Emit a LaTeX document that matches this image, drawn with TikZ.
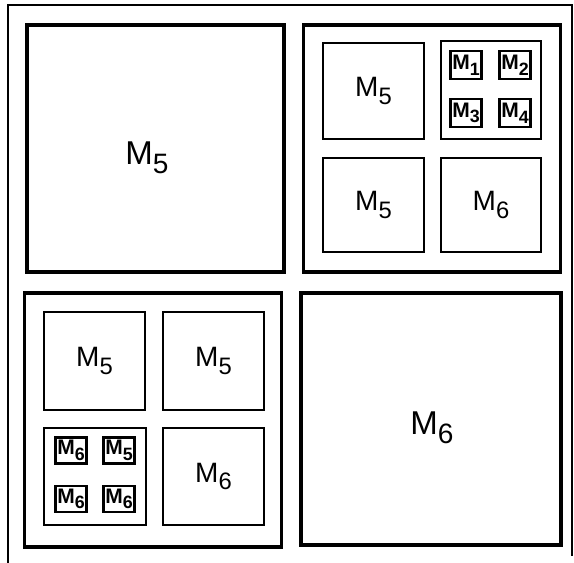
\documentclass[tikz,border=0pt]{standalone}
\usepackage{fontspec}
\setmainfont{Liberation Sans}
\usetikzlibrary{positioning}
\newcommand{\mlab}[1]{M\raisebox{-0.5ex}{\scalebox{0.85}{#1}}}

\begin{document}
\begin{tikzpicture}[
  x=1pt, y=-1pt,
  quad/.style={draw, line width=3.2pt, inner sep=0pt,
               minimum width=257pt, minimum height=247pt,
               font=\fontsize{33}{33}\selectfont},
  cell/.style={draw, line width=2.8pt, inner sep=0pt,
               minimum width=101pt, minimum height=96pt,
               font=\fontsize{28}{28}\selectfont},
  tiny/.style={draw, line width=2.4pt, inner sep=0pt,
               minimum width=31pt, minimum height=28pt,
               font=\bfseries\fontsize{21}{21}\selectfont}
]
  \useasboundingbox (0,0) rectangle (574,563);

  % outer frame
  \draw[line width=2.5pt] (8,563) -- (8,5) -- (572,5) -- (572,556);

  % quadrants
  \node[quad] (tl) at (155.5,148.5) {};
  \node[font=\fontsize{33}{33}\selectfont] (tlLab) at (147,158) {\mlab{5}};
  \node[quad] (tr) at (432,148.5) {};
  \node[quad, minimum height=254pt] (bl) at (153,420) {};
  \node[quad, minimum width=260pt, minimum height=252pt] (br) at (431,419) {};
  \node[font=\fontsize{33}{33}\selectfont] (brLab) at (432,428) {\mlab{6}};

  % top right
  \node[cell] (trA) at (373.5,91) {\mlab{5}};
  \node[cell, minimum width=100pt, minimum height=98pt] (trB) at (491,90) {};
  \node[cell, minimum height=94pt] (trC) at (373.5,205) {\mlab{5}};
  \node[cell, minimum width=100pt, minimum height=94pt] (trD) at (491,205) {\mlab{6}};

  \node[tiny] (m1) at (466,65) {\mlab{1}};
  \node[tiny] (m2) at (515,65) {\mlab{2}};
  \node[tiny] (m3) at (466,113) {\mlab{3}};
  \node[tiny] (m4) at (515,113) {\mlab{4}};

  % bottom left
  \node[cell, minimum height=98pt] (blA) at (94.5,361) {\mlab{5}};
  \node[cell, minimum height=98pt] (blB) at (213.5,361) {\mlab{5}};
  \node[cell, minimum width=102pt, minimum height=97pt] (blC) at (95,476.5) {};
  \node[cell, minimum height=97pt] (blD) at (213.5,476.5) {\mlab{6}};

  \node[tiny, minimum height=26pt] (n1) at (71,450.5) {\mlab{6}};
  \node[tiny, minimum height=26pt] (n2) at (119,450.5) {\mlab{5}};
  \node[tiny, minimum height=26pt] (n3) at (71,499) {\mlab{6}};
  \node[tiny, minimum height=26pt] (n4) at (119,499) {\mlab{6}};

\end{tikzpicture}
\end{document}
